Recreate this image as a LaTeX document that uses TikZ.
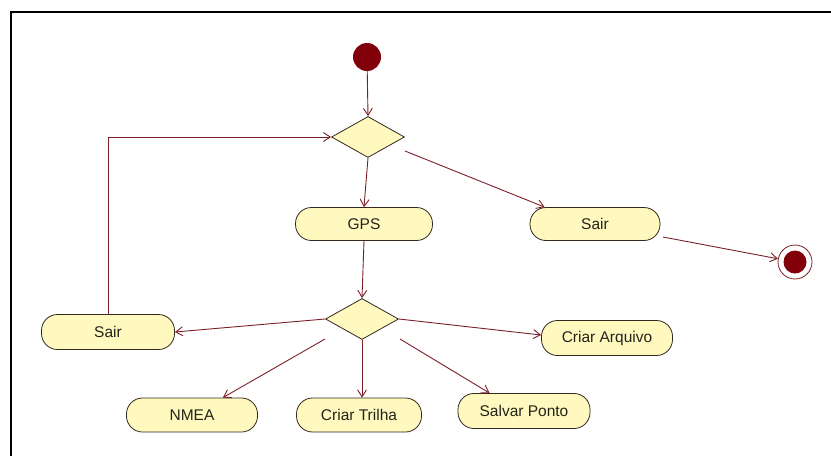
\documentclass[tikz,border=0pt]{standalone}
\usepackage{fontspec}
\setmainfont{Liberation Sans}
\usetikzlibrary{arrows.meta,shapes.geometric,calc}
\definecolor{edgec}{RGB}{125,30,40}
\definecolor{fillc}{RGB}{255,249,192}
\definecolor{bordc}{RGB}{50,40,30}
\definecolor{textc}{RGB}{35,35,25}
\definecolor{dotc}{RGB}{130,0,10}
\begin{document}
\begin{tikzpicture}[x=1pt,y=-1pt,
  act/.style={draw=bordc, fill=fillc, rounded corners=16pt, minimum height=33pt,
    inner sep=0pt, text=textc, font=\fontsize{15.5}{17}\selectfont, line width=0.8pt},
  dec/.style={draw=bordc, fill=fillc, diamond, minimum width=73pt, minimum height=41pt,
    inner sep=0pt, line width=0.8pt},
  flow/.style={draw=edgec, line width=0.9pt, -{Straight Barb[length=7pt,width=9pt]}}]
\useasboundingbox (0,0) rectangle (831,456);
\draw[line width=2pt] (11,456) -- (11,12) -- (831,12);

\node[circle, fill=dotc, minimum size=28pt, inner sep=0pt] (start) at (367,57) {};
\node[dec] (d1) at (368,137) {};
\node[act, minimum width=137pt] (gps) at (364,224) {GPS};
\node[act, minimum width=130pt] (sair1) at (595,224) {Sair};
\node[circle, draw=edgec, fill=white, line width=0.8pt, minimum size=34pt, inner sep=0pt] (end) at (795,262) {};
\node[circle, fill=dotc, minimum size=23pt, inner sep=0pt] (endin) at (795,262) {};
\node[dec] (d2) at (362,319) {};
\node[act, minimum width=133pt, minimum height=35pt] (sair2) at (108,332) {Sair};
\node[act, minimum width=131pt, minimum height=34pt] (nmea) at (192,415) {NMEA};
\node[act, minimum width=125pt, minimum height=34pt] (trilha) at (359,415) {Criar Trilha};
\node[act, minimum width=132pt, minimum height=35pt] (salvar) at (524,411) {Salvar Ponto};
\node[act, minimum width=131pt, minimum height=35pt] (arquivo) at (607,338) {Criar Arquivo};

\coordinate (d1o) at (405,151);
\coordinate (s1o) at (663,237);
\coordinate (d2l) at (325,339);
\coordinate (d2r) at (400,339);

\draw[flow] (start) -- (d1.north);
\draw[flow] (sair2.north) |- (d1.west);
\draw[flow] (d1.south) -- (gps.north);
\draw[flow] (d1o) -- ($(sair1.north west)+(15,0)$);
\draw[flow] (s1o) -- (end);
\draw[flow] (gps.south) -- (d2.north);
\draw[flow] (d2.west) -- (sair2.east);
\draw[flow] (d2.east) -- ($(arquivo.west)+(0,-3)$);
\draw[flow] (d2l) -- ($(nmea.north east)+(-35,0)$);
\draw[flow] (d2.south) -- (d2.south |- trilha.north);
\draw[flow] (d2r) -- ($(salvar.north west)+(32,0)$);
\end{tikzpicture}
\end{document}
